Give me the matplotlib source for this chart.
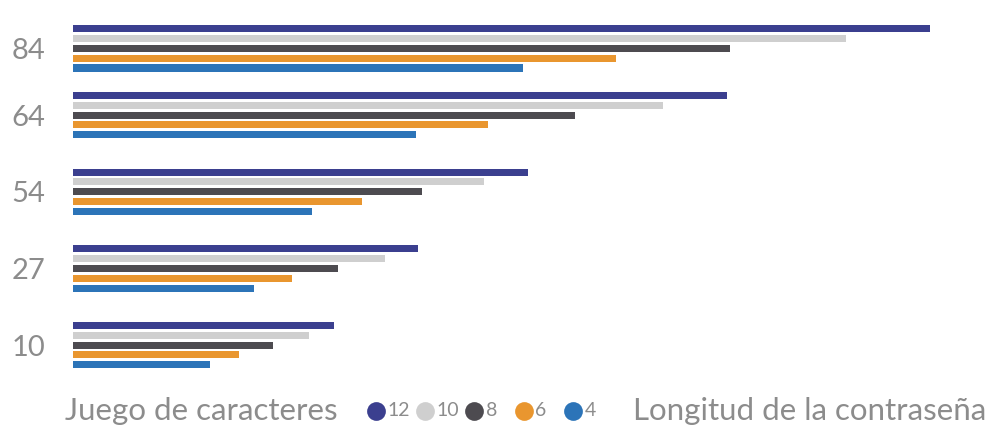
import matplotlib
matplotlib.use("Agg")
import matplotlib.pyplot as plt
import numpy as np

plt.rcParams['font.family'] = ['Lato', 'DejaVu Sans']

# Character set sizes (rows) and password lengths (series)
charsets = ["10", "27", "54", "64", "84"]
lengths = ["12", "10", "8", "6", "4"]

# Relative strength per charset, one list per password length
len_12 = [26.1, 34.5, 45.5, 65.4, 85.7]
len_10 = [23.6, 31.2, 41.1, 59.0, 77.3]
len_8 = [20.0, 26.5, 34.9, 50.2, 65.7]
len_6 = [16.6, 21.9, 28.9, 41.5, 54.3]
len_4 = [13.7, 18.1, 23.9, 34.3, 45.0]

series = [len_12, len_10, len_8, len_6, len_4]
colors = ["#3b3f8f", "#cfcfcf", "#4d4b50", "#e9962f", "#2c74b8"]

text_color = "#8c8c8c"
W, H = 994, 425

fig = plt.figure(figsize=(W / 100, H / 100), dpi=100)
fig.patch.set_facecolor("white")
ax = fig.add_axes([73 / W, 40 / H, 902 / W, 375 / H])

row_pos = np.array([0.0, 1.0, 2.0, 3.0, 3.87])
step = 0.128
bar_h = 0.092
for i, (vals, col) in enumerate(zip(series, colors)):
    off = (2 - i) * step
    ax.barh(row_pos + off, vals, height=bar_h, color=col, edgecolor="none")

ax.set_xlim(0, 90.2)
ax.set_ylim(-0.52, 4.37)
ax.set_yticks(row_pos)
ax.set_yticklabels(charsets, fontsize=21, color=text_color)
ax.tick_params(axis="y", length=0, pad=20)
ax.set_xticks([])
for s in ax.spines.values():
    s.set_visible(False)

# Footer: captions on both sides, colour key for password lengths in between
key_y = 1 - 411 / H
fig.text(65 / W, key_y, "Juego de caracteres", fontsize=22.5,
         color=text_color, ha="left", va="center")
fig.text(986 / W, key_y, "Longitud de la contraseña", fontsize=22.5,
         color=text_color, ha="right", va="center")

key_ax = fig.add_axes([0, 0, 1, 1], facecolor="none")
key_ax.set_xlim(0, W)
key_ax.set_ylim(0, H)
key_ax.axis("off")
x0, dx = 376, 49.2
for j, (lab, col) in enumerate(zip(lengths, colors)):
    cx = x0 + j * dx
    key_ax.plot([cx], [H - 411], marker="o", markersize=13.5,
                color=col, markeredgecolor="none", linestyle="none")
    key_ax.text(cx + 11.5, H - 410, lab, fontsize=14, color=text_color,
                ha="left", va="center")

fig.savefig("out.png", dpi=100)
